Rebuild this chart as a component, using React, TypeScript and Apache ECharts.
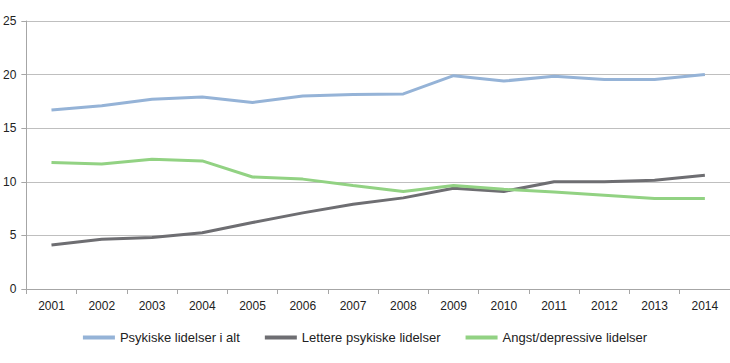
import React, { useEffect, useRef } from "react";
import * as echarts from "echarts";

const years = ["2001","2002","2003","2004","2005","2006","2007","2008","2009","2010","2011","2012","2013","2014"];
const psykiske = [16.7, 17.1, 17.7, 17.9, 17.4, 18.0, 18.15, 18.2, 19.9, 19.4, 19.85, 19.55, 19.55, 20.0];
const lettere = [4.1, 4.65, 4.8, 5.25, 6.2, 7.1, 7.9, 8.5, 9.4, 9.1, 10.0, 10.0, 10.15, 10.6];
const angst = [11.8, 11.65, 12.1, 11.95, 10.45, 10.25, 9.65, 9.1, 9.65, 9.3, 9.05, 8.75, 8.45, 8.45];
const seriesNames = ["Psykiske lidelser i alt", "Lettere psykiske lidelser", "Angst/depressive lidelser"];
const colors = ["#95B3D7", "#6E6E72", "#92D283"];

export default function App() {
  const ref = useRef<HTMLDivElement>(null);
  useEffect(() => {
    const chart = echarts.init(ref.current!, null, { renderer: "svg" });
    const data = [psykiske, lettere, angst];
    chart.setOption({
      animation: false,
      textStyle: { fontFamily: "Liberation Sans, Arial, sans-serif" },
      grid: { left: 25, right: 0, top: 21, bottom: 74 },
      legend: {
        top: 326,
        left: "center",
        itemWidth: 32,
        itemHeight: 4,
        itemGap: 25,
        icon: "rect",
        textStyle: { fontSize: 13, color: "#222", fontFamily: "Liberation Sans, Arial, sans-serif" },
        data: seriesNames,
      },
      xAxis: {
        type: "category",
        data: years,
        boundaryGap: true,
        axisLine: { lineStyle: { color: "#A6A6A6", width: 1 } },
        axisTick: { show: true, alignWithLabel: false, length: 5, lineStyle: { color: "#A6A6A6" } },
        axisLabel: { color: "#222", fontSize: 12, margin: 11 },
      },
      yAxis: {
        type: "value",
        min: 0,
        max: 25,
        interval: 5,
        axisLine: { show: true, lineStyle: { color: "#A6A6A6" } },
        axisTick: { show: true, length: 5, lineStyle: { color: "#A6A6A6" } },
        axisLabel: { color: "#222", fontSize: 12, margin: 10 },
        splitLine: { lineStyle: { color: "#BFBFBF", width: 1 } },
      },
      series: data.map((d, i) => ({
        name: seriesNames[i],
        type: "line",
        data: d,
        symbol: "none",
        lineStyle: { color: colors[i], width: 3 },
        itemStyle: { color: colors[i] },
      })),
    });
    return () => chart.dispose();
  }, []);
  return <div ref={ref} style={{ position: "absolute", left: 0, top: 0, width: 730, height: 363 }} />;
}
